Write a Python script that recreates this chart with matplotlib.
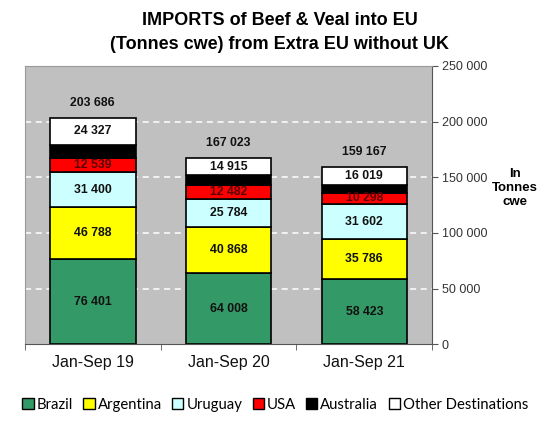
import matplotlib.pyplot as plt
import numpy as np
from matplotlib.patches import Patch

periods = ["Jan-Sep 19", "Jan-Sep 20", "Jan-Sep 21"]
brazil = [76401, 64008, 58423]
argentina = [46788, 40868, 35786]
uruguay = [31400, 25784, 31602]
usa = [12539, 12482, 10298]
australia = [12231, 8966, 7039]
other = [24327, 14915, 16019]
totals = [203686, 167023, 159167]

series = [
  ("Brazil", brazil, "#339966", "#111111"),
  ("Argentina", argentina, "#FFFF00", "#111111"),
  ("Uruguay", uruguay, "#CCFFFF", "#111111"),
  ("USA", usa, "#FF0000", "#5a0000"),
  ("Australia", australia, "#000000", None),
  ("Other Destinations", other, "#FFFFFF", "#111111"),
]

def fmt(v):
  return f"{v:,}".replace(",", " ")

plt.rcParams['font.family'] = ['Liberation Sans', 'DejaVu Sans']
fig = plt.figure(figsize=(5.54, 4.34), dpi=100)
ax = fig.add_axes([0.045, 0.207, 0.735, 0.641])
ax.set_facecolor("#C0C0C0")

x = np.arange(len(periods))
bottom = np.zeros(len(periods))
for name, vals, color, tcol in series:
  ax.bar(x, vals, 0.63, bottom=bottom, color=color, edgecolor="black", linewidth=1.2, zorder=3)
  if tcol is not None:
    for xi, b, v in zip(x, bottom, vals):
      ax.text(xi, b + v / 2, fmt(v), ha="center", va="center", fontsize=8.8,
              fontweight="bold", color=tcol, zorder=4)
  bottom += np.array(vals)

for xi, t in zip(x, totals):
  ax.text(xi, t + 8000, fmt(t), ha="center", va="bottom", fontsize=8.8,
          fontweight="bold", color="#111111")

ax.set_xlim(-0.5, 2.5)
ax.set_ylim(0, 250000)
ax.set_yticks(np.arange(0, 250001, 50000))
ax.set_yticklabels([fmt(v) for v in range(0, 250001, 50000)], fontsize=9, color="#333333")
ax.yaxis.tick_right()
ax.tick_params(axis="y", length=4, color="#555555", pad=3)
for yv in range(50000, 250000, 50000):
  ax.axhline(yv, color="white", linestyle=(0, (4, 3)), linewidth=1.1, zorder=2)

ax.set_xticks(x)
ax.set_xticklabels(periods, fontsize=11.5, color="#111111")
ax.tick_params(axis="x", length=0, pad=8)
ax.set_xticks([-0.5, 0.5, 1.5, 2.5], minor=True)
ax.tick_params(axis="x", which="minor", length=4, color="#555555")

for s in ["left", "top"]:
  ax.spines[s].set_color("#999999")
for s in ["right", "bottom"]:
  ax.spines[s].set_color("#555555")

fig.text(0.505, 0.953, "IMPORTS of Beef & Veal into EU", ha="center", va="center",
         fontsize=13, fontweight="bold")
fig.text(0.505, 0.898, "(Tonnes cwe) from Extra EU without UK", ha="center", va="center",
         fontsize=13, fontweight="bold")
fig.text(0.93, 0.567, "In\nTonnes\ncwe", ha="center", va="center", fontsize=9.5,
         fontweight="bold", linespacing=1.2)

handles = [Patch(facecolor=c, edgecolor="black", linewidth=1) for _, _, c, _ in series]
fig.legend(handles, [s[0] for s in series], loc="center", bbox_to_anchor=(0.497, 0.067),
           ncol=6, frameon=False, handlelength=0.75, handleheight=0.75,
           handletextpad=0.2, columnspacing=0.7, prop={"family": "Lato", "size": 10.7})

fig.savefig("out.png", dpi=100)
